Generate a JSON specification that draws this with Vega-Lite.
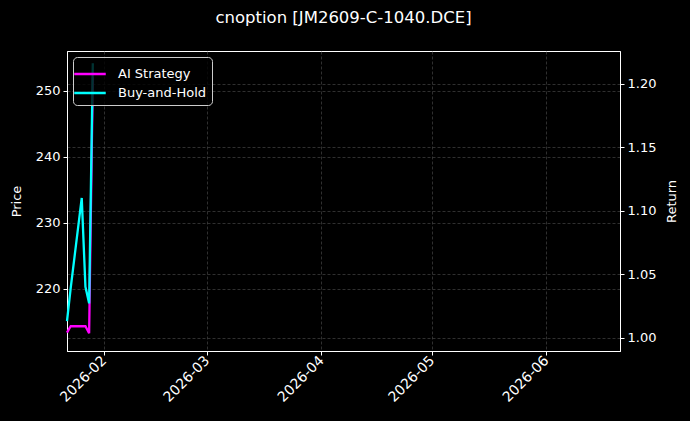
{
  "$schema": "https://vega.github.io/schema/vega-lite/v6.json",
  "autosize": "none",
  "width": 553,
  "height": 300,
  "padding": {"left": 67, "top": 51, "right": 70, "bottom": 70},
  "background": "#000000",
  "title": {
    "text": "cnoption [JM2609-C-1040.DCE]",
    "color": "#ffffff",
    "font": "DejaVu Sans",
    "fontSize": 16.5,
    "fontWeight": "normal",
    "anchor": "middle",
    "offset": 25
  },
  "datasets": {
    "price": [
      {"date": "2026-01-22", "price": 212.7},
      {"date": "2026-01-23", "price": 218.0},
      {"date": "2026-01-26", "price": 233.0},
      {"date": "2026-01-27", "price": 220.0},
      {"date": "2026-01-28", "price": 217.5},
      {"date": "2026-01-29", "price": 254.0}
    ],
    "returns": [
      {"date": "2026-01-22", "series": "AI Strategy", "value": 1.004},
      {"date": "2026-01-23", "series": "AI Strategy", "value": 1.009},
      {"date": "2026-01-26", "series": "AI Strategy", "value": 1.009},
      {"date": "2026-01-27", "series": "AI Strategy", "value": 1.009},
      {"date": "2026-01-28", "series": "AI Strategy", "value": 1.0035},
      {"date": "2026-01-29", "series": "AI Strategy", "value": 1.205},
      {"date": "2026-01-22", "series": "Buy-and-Hold", "value": 1.013},
      {"date": "2026-01-23", "series": "Buy-and-Hold", "value": 1.039},
      {"date": "2026-01-26", "series": "Buy-and-Hold", "value": 1.110},
      {"date": "2026-01-27", "series": "Buy-and-Hold", "value": 1.040},
      {"date": "2026-01-28", "series": "Buy-and-Hold", "value": 1.027},
      {"date": "2026-01-29", "series": "Buy-and-Hold", "value": 1.216}
    ]
  },
  "layer": [
    {
      "data": {"name": "price"},
      "mark": {"type": "line", "strokeOpacity": 0},
      "encoding": {
        "x": {
          "field": "date",
          "type": "temporal",
          "scale": {"type": "utc", "domain": ["2026-01-22T00:00:00Z", "2026-06-21T00:00:00Z"]},
          "axis": {
            "title": null,
            "format": "%Y-%m",
            "tickCount": {"interval": "month", "step": 1},
            "labelAngle": -45,
            "labelAlign": "right",
            "labelBaseline": "middle",
            "labelFontSize": 14,
            "labelDx": -5,
            "labelDy": 1,
            "grid": true
          }
        },
        "y": {
          "field": "price",
          "type": "quantitative",
          "scale": {"domain": [210.6, 256.0], "nice": false, "zero": false},
          "axis": {
            "orient": "left",
            "title": "Price",
            "values": [220, 230, 240, 250],
            "grid": true
          }
        }
      }
    },
    {
      "data": {"name": "returns"},
      "mark": {"type": "line", "strokeWidth": 2.3},
      "encoding": {
        "x": {
          "field": "date",
          "type": "temporal",
          "scale": {"type": "utc", "domain": ["2026-01-22T00:00:00Z", "2026-06-21T00:00:00Z"]}
        },
        "y": {
          "field": "value",
          "type": "quantitative",
          "scale": {"domain": [0.9895, 1.2257], "nice": false, "zero": false},
          "axis": {
            "orient": "right",
            "title": "Return",
            "titleAngle": 270,
            "titleBaseline": "top",
            "titlePadding": 10,
            "format": ".2f",
            "values": [1.0, 1.05, 1.1, 1.15, 1.2],
            "grid": true
          }
        },
        "color": {
          "field": "series",
          "type": "nominal",
          "scale": {"domain": ["AI Strategy", "Buy-and-Hold"], "range": ["#ff00ff", "#00ffff"]},
          "legend": {"title": null, "orient": "top-left"}
        }
      }
    }
  ],
  "resolve": {"scale": {"y": "independent"}},
  "config": {
    "view": {"stroke": "#ffffff", "strokeWidth": 1},
    "axis": {
      "labelFont": "DejaVu Sans",
      "titleFont": "DejaVu Sans",
      "labelFontSize": 13,
      "titleFontSize": 13,
      "titleFontWeight": "normal",
      "labelColor": "#ffffff",
      "titleColor": "#ffffff",
      "domainColor": "#ffffff",
      "tickColor": "#ffffff",
      "tickSize": 4,
      "labelPadding": 3,
      "gridColor": "#555555",
      "gridDash": [3, 2],
      "gridWidth": 0.7,
      "gridOpacity": 0.8
    },
    "axisLeft": {"titlePadding": 12},
    "legend": {
      "labelFont": "DejaVu Sans",
      "labelFontSize": 13,
      "labelColor": "#ffffff",
      "symbolType": "M-1.5,0H1.5",
      "symbolSize": 441,
      "symbolStrokeWidth": 2.5,
      "labelOffset": 16,
      "rowPadding": 0,
      "padding": 5,
      "offset": 6,
      "strokeColor": "#cccccc",
      "fillColor": "rgba(0,0,0,0.8)",
      "cornerRadius": 4
    }
  }
}
